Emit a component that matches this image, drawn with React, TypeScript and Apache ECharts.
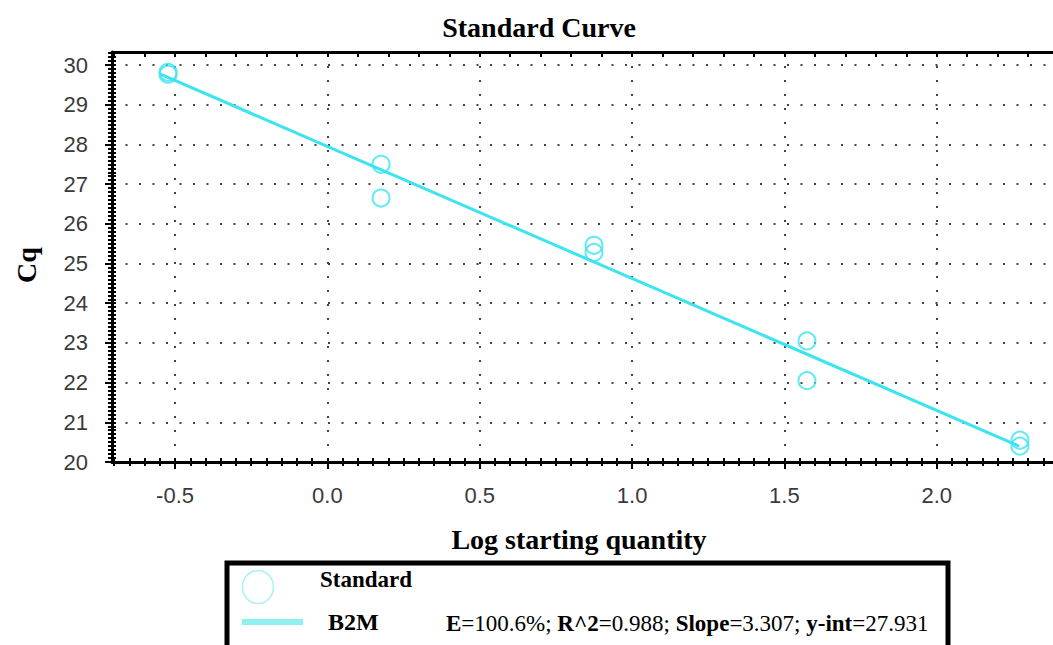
import React, { useEffect, useRef } from "react";
import * as echarts from "echarts";

// ---- data ----
const X_LOG = [-0.523, -0.523, 0.176, 0.176, 0.875, 0.875, 1.574, 1.574, 2.273, 2.273];
const CQ = [29.82, 29.77, 27.5, 26.65, 25.46, 25.28, 23.05, 22.05, 20.55, 20.4];
const FIT_X = [-0.55, 2.27];
const FIT_Y = [29.78, 20.4];
const X_TICK_LABELS = [-0.5, 0.0, 0.5, 1.0, 1.5, 2.0];
const Y_TICK_LABELS = [20, 21, 22, 23, 24, 25, 26, 27, 28, 29, 30];
const X_RANGE = [-0.707, 2.48];
const Y_RANGE = [20, 30.33];

const TITLE = "Standard Curve";
const X_NAME = "Log starting quantity";
const Y_NAME = "Cq";
const LEGEND_POINTS = "Standard";
const LEGEND_LINE = "B2M";
const EQ_E = "100.6%";
const EQ_R2 = "0.988";
const EQ_SLOPE = "3.307";
const EQ_YINT = "27.931";

// minor tick positions (styling helpers)
const r2 = (v: number) => Math.round(v * 100) / 100;
const X_MINOR: number[] = [];
for (let i = -14; i <= 49; i++) X_MINOR.push(r2(i * 0.05));
const X_TOP: number[] = [];
for (let i = -7; i <= 24; i++) X_TOP.push(r2(i * 0.1));
const Y_MINOR: number[] = [];
for (let i = 200; i <= 303; i++) Y_MINOR.push(r2(i * 0.1));

const CYAN = "#3ce4f0";
const SERIF = '"Liberation Serif", "Times New Roman", serif';
const SANS = '"Liberation Sans", Arial, sans-serif';
const GRID_DOT = { type: [2, 12] as any, width: 2, color: "#444" };

export default function App() {
  const ref = useRef<HTMLDivElement>(null);
  useEffect(() => {
    if (!ref.current) return;
    const chart = echarts.init(ref.current, null, { renderer: "svg" });
    const gridBox = { left: 112, top: 52, right: -30, bottom: 183, outerBoundsMode: "none", containLabel: false };
    const helperX = (gridIndex: number, inside: boolean) => ({
      type: "value", gridIndex, position: "bottom", min: X_RANGE[0], max: X_RANGE[1],
      axisLine: { show: false, onZero: false }, axisLabel: { show: false }, splitLine: { show: false },
      axisTick: { show: true, inside, length: 4, customValues: X_MINOR, lineStyle: { color: "#000", width: 2 } },
    });
    const helperY = (gridIndex: number, inside: boolean) => ({
      type: "value", gridIndex, position: "left", min: Y_RANGE[0], max: Y_RANGE[1],
      axisLine: { show: false, onZero: false }, axisLabel: { show: false }, splitLine: { show: false },
      axisTick: { show: true, inside, length: 4, customValues: Y_MINOR, lineStyle: { color: "#000", width: 2 } },
    });
    const option: any = {
      animation: false,
      backgroundColor: "#fff",
      grid: [gridBox, { ...gridBox }, { ...gridBox }],
      xAxis: [
        {
          type: "value", gridIndex: 0, position: "bottom", min: X_RANGE[0], max: X_RANGE[1], splitNumber: 6,
          axisLine: { show: true, onZero: false, lineStyle: { color: "#000", width: 3 } },
          axisTick: { show: true, length: 7, customValues: X_TICK_LABELS, lineStyle: { color: "#000", width: 2 } },
          axisLabel: {
            customValues: X_TICK_LABELS, formatter: (v: number) => v.toFixed(1),
            fontFamily: SANS, fontSize: 22, color: "#3a3a3a", margin: 22,
          },
          splitLine: { show: true, lineStyle: GRID_DOT },
          name: X_NAME, nameLocation: "middle", nameGap: 63,
          nameTextStyle: { fontFamily: SERIF, fontWeight: "bold", fontSize: 28, color: "#000", padding: [0, 37, 0, 0] },
        },
        {
          type: "value", gridIndex: 0, position: "top", min: X_RANGE[0], max: X_RANGE[1],
          axisLine: { show: true, onZero: false, lineStyle: { color: "#000", width: 3 } },
          axisTick: { show: true, inside: true, length: 5, customValues: X_TOP, lineStyle: { color: "#000", width: 2 } },
          axisLabel: { show: false }, splitLine: { show: false },
        },
        helperX(1, true),
        helperX(2, false),
      ],
      yAxis: [
        {
          type: "value", gridIndex: 0, position: "left", min: Y_RANGE[0], max: Y_RANGE[1], interval: 1,
          axisLine: { show: true, onZero: false, lineStyle: { color: "#000", width: 3 } },
          axisTick: { show: true, length: 7, customValues: Y_TICK_LABELS, lineStyle: { color: "#000", width: 2 } },
          axisLabel: { customValues: Y_TICK_LABELS, fontFamily: SANS, fontSize: 22, color: "#3a3a3a", margin: 24 },
          splitLine: { show: true, lineStyle: { ...GRID_DOT, type: [2, 11.5] } },
          name: Y_NAME, nameLocation: "middle", nameGap: 72, nameRotate: 90,
          nameTextStyle: { fontFamily: SERIF, fontWeight: "bold", fontSize: 28, color: "#000", padding: [0, 16, 0, 0] },
        },
        helperY(1, true),
        helperY(2, false),
      ],
      series: [
        {
          type: "line", xAxisIndex: 0, yAxisIndex: 0, symbol: "none",
          data: FIT_X.map((x, i) => [x, FIT_Y[i]]),
          lineStyle: { color: CYAN, width: 3 }, z: 3,
        },
        {
          type: "scatter", xAxisIndex: 0, yAxisIndex: 0, symbol: "circle", symbolSize: 17,
          data: X_LOG.map((x, i) => [x, CQ[i]]),
          itemStyle: { color: "rgba(0,0,0,0)", borderColor: CYAN, borderWidth: 2 }, z: 4,
        },
      ],
      graphic: [
        {
          type: "text", x: 539, y: 27, z: 10,
          style: { text: TITLE, fill: "#000", fontFamily: SERIF, fontWeight: "bold", fontSize: 28, align: "center", verticalAlign: "middle" },
        },
        {
          type: "rect", z: 10, shape: { x: 227, y: 563, width: 721, height: 120 },
          style: { fill: "#fff", stroke: "#000", lineWidth: 5 },
        },
        {
          type: "ellipse", z: 11, shape: { cx: 258, cy: 587, rx: 15.5, ry: 16.5 },
          style: { fill: "none", stroke: "#a6f2f5", lineWidth: 1.5 },
        },
        {
          type: "line", z: 11, shape: { x1: 242, y1: 622, x2: 303, y2: 622 },
          style: { stroke: "#8ff0f0", lineWidth: 6 },
        },
        {
          type: "text", x: 320, y: 579, z: 11,
          style: { text: LEGEND_POINTS, fill: "#000", fontFamily: SERIF, fontWeight: "bold", fontSize: 23, align: "left", verticalAlign: "middle" },
        },
        {
          type: "text", x: 328, y: 622, z: 11,
          style: { text: LEGEND_LINE, fill: "#000", fontFamily: SERIF, fontWeight: "bold", fontSize: 24, align: "left", verticalAlign: "middle" },
        },
        {
          type: "text", x: 446, y: 623, z: 11,
          style: {
            text: `{b|E}{r|=${EQ_E}; }{b|R^2}{r|=${EQ_R2}; }{b|Slope}{r|=${EQ_SLOPE}; }{b|y-int}{r|=${EQ_YINT}}`,
            align: "left", verticalAlign: "middle",
            rich: {
              b: { fontFamily: SERIF, fontWeight: "bold", fontSize: 23, fill: "#000", color: "#000" },
              r: { fontFamily: SERIF, fontWeight: "normal", fontSize: 23, fill: "#000", color: "#000" },
            },
          },
        },
      ],
    };
    chart.setOption(option);
    return () => chart.dispose();
  }, []);
  return (
    <div
      ref={ref}
      style={{ position: "absolute", left: 0, top: 0, width: 1053, height: 645, background: "#fff" }}
    />
  );
}
